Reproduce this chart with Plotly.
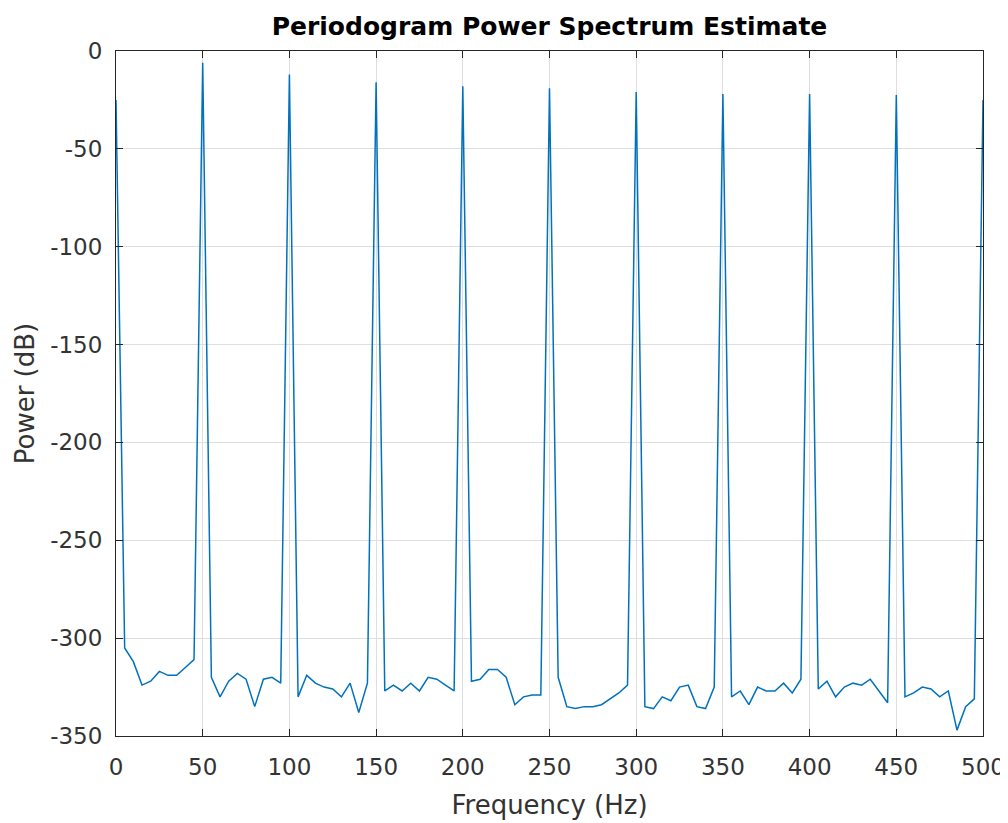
import plotly.graph_objects as go

# frequency bins (Hz), 5 Hz spacing
freq = list(range(0, 505, 5))

# power (dB)
power = [
    -25, -305, -312, -324, -322, -317, -319, -319, -315, -311,
    -6, -320, -330, -322, -318, -321, -335, -321, -320, -323,
    -12, -330, -319, -323, -325, -326, -330, -323, -338, -323,
    -16, -327, -324, -327, -323, -327, -320, -321, -324, -327,
    -18, -322, -321, -316, -316, -320, -334, -330, -329, -329,
    -19, -320, -335, -336, -335, -335, -334, -331, -328, -324,
    -21, -335, -336, -330, -332, -325, -324, -335, -336, -325,
    -22, -330, -327, -334, -325, -327, -327, -323, -328, -321,
    -22, -326, -322, -330, -325, -323, -324, -321, -327, -333,
    -22.5, -330, -328, -325, -326, -330, -327, -347, -335, -331,
    -25,
]

x_ticks = [0, 50, 100, 150, 200, 250, 300, 350, 400, 450, 500]
x_labels = ['0', '50', '100', '150', '200', '250', '300', '350', '400', '450', '500']
y_ticks = [0, -50, -100, -150, -200, -250, -300, -350]
y_labels = ['0', '-50', '-100', '-150', '-200', '-250', '-300', '-350']

axis_color = '#262626'
font_family = 'DejaVu Sans'

fig = go.Figure()
fig.add_trace(go.Scatter(
    x=freq,
    y=power,
    mode='lines',
    line=dict(color='#0072BD', width=1.5),
    showlegend=False,
))

# page body adds an 8px margin, so the figure is 8px smaller each way
fig.update_layout(
    width=1000,
    height=815,
    paper_bgcolor='white',
    plot_bgcolor='white',
    margin=dict(l=108, r=25, t=43, b=87, autoexpand=False),
    title=dict(
        text='<b>Periodogram Power Spectrum Estimate</b>',
        xref='paper',
        x=0.5,
        xanchor='center',
        yref='container',
        y=0.978,
        yanchor='middle',
        font=dict(family=font_family, size=25, color='#000000'),
    ),
    font=dict(family=font_family, color=axis_color),
)

fig.update_xaxes(
    range=[0, 500],
    tickvals=x_ticks,
    ticktext=x_labels,
    ticks='inside',
    ticklen=7,
    tickcolor=axis_color,
    tickfont=dict(size=23, color='#333333'),
    ticklabelstandoff=10,
    showline=True,
    linecolor=axis_color,
    linewidth=1,
    mirror='ticks',
    showgrid=True,
    gridcolor='#dedede',
    gridwidth=1,
    zeroline=False,
    automargin=False,
    title=dict(text='Frequency (Hz)', font=dict(size=26, color='#333333'), standoff=17),
)

fig.update_yaxes(
    range=[-350, 0],
    tickvals=y_ticks,
    ticktext=y_labels,
    ticks='inside',
    ticklen=7,
    tickcolor=axis_color,
    tickfont=dict(size=23, color='#333333'),
    ticklabelstandoff=8,
    showline=True,
    linecolor=axis_color,
    linewidth=1,
    mirror='ticks',
    showgrid=True,
    gridcolor='#dedede',
    gridwidth=1,
    zeroline=False,
    automargin=False,
    title=dict(text='Power (dB)', font=dict(size=26, color='#333333'), standoff=8),
)

fig.write_html("out.html")
